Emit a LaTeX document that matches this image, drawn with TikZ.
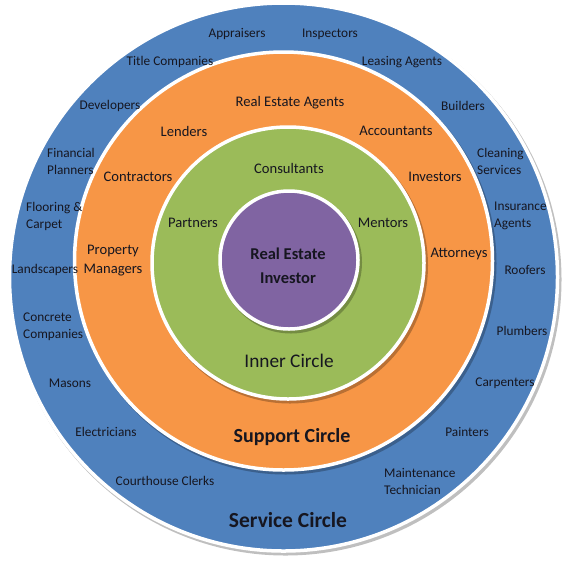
\documentclass[tikz,border=0pt]{standalone}
\usepackage{fontspec}
\setmainfont{Carlito}
\usetikzlibrary{positioning}
\definecolor{svcblue}{RGB}{79,129,189}
\definecolor{suporange}{RGB}{247,150,70}
\definecolor{inngreen}{RGB}{155,187,89}
\definecolor{invpurple}{RGB}{128,100,162}
\definecolor{lbltext}{RGB}{22,22,32}
\tikzset{ring/.style={draw=white, line width=3.5pt}}
\tikzset{ringshadow/.style={fill=black, opacity=0.25}}
\tikzset{svclbl/.style={font=\fontsize{13.3}{17}\selectfont, text=lbltext, align=center, inner sep=0pt}}
\tikzset{leftlbl/.style={svclbl, align=left, anchor=west}}
\tikzset{suplbl/.style={font=\fontsize{14.6}{19}\selectfont, text=lbltext, align=center, inner sep=0pt}}
\tikzset{ringtitle/.style={font=\fontsize{20}{24}\selectfont\bfseries, text=lbltext, inner sep=0pt}}

\begin{document}
\begin{tikzpicture}[x=1pt, y=-1pt]
  \useasboundingbox (0,0) rectangle (569,563);
  % rings, outside in
  \fill[ringshadow] (285.5,279.5) circle (276);
  \draw[ring, fill=svcblue] (283.5,277) circle (274);
  \fill[ringshadow] (285.5,263.5) circle (211);
  \draw[ring, fill=suporange] (283.5,261) circle (209);
  \fill[ringshadow] (290,265.5) circle (138);
  \draw[ring, fill=inngreen] (288,263) circle (136);
  \fill[ringshadow] (291,262.5) circle (71);
  \draw[ring, fill=invpurple] (289,260) circle (69);

  % service circle
  \node[svclbl] (appraisers) at (237,34) {Appraisers};
  \node[svclbl] (inspectors) at (330,34) {Inspectors};
  \node[svclbl] (titleco) at (170,62) {Title Companies};
  \node[svclbl] (leasing) at (402,62) {Leasing Agents};
  \node[svclbl] (developers) at (110,106) {Developers};
  \node[svclbl] (builders) at (463,106) {Builders};
  \node[leftlbl] (financial) at (47,161) {Financial\\Planners};
  \node[leftlbl] (cleaning) at (477,161) {Cleaning\\Services};
  \node[leftlbl] (flooring) at (26,216) {Flooring \&\\Carpet};
  \node[leftlbl] (insurance) at (494,216) {Insurance\\Agents};
  \node[svclbl] (landscapers) at (45,270) {Landscapers};
  \node[svclbl] (roofers) at (525,270) {Roofers};
  \node[leftlbl] (concrete) at (23,327) {Concrete\\Companies};
  \node[svclbl] (plumbers) at (522,331) {Plumbers};
  \node[svclbl] (masons) at (70,383) {Masons};
  \node[svclbl] (carpenters) at (505,383) {Carpenters};
  \node[svclbl] (electricians) at (106,432) {Electricians};
  \node[svclbl] (painters) at (467,432) {Painters};
  \node[svclbl] (clerks) at (165,481) {Courthouse Clerks};
  \node[leftlbl] (maintenance) at (384,481) {Maintenance\\Technician};
  \node[ringtitle, font=\fontsize{21.5}{26}\selectfont\bfseries] (service) at (288,520) {Service Circle};

  % support circle
  \node[suplbl] (agents) at (290,103) {Real Estate Agents};
  \node[suplbl] (lenders) at (184,131) {Lenders};
  \node[suplbl] (accountants) at (396,131) {Accountants};
  \node[suplbl] (contractors) at (138,177) {Contractors};
  \node[suplbl] (investors) at (435,177) {Investors};
  \node[suplbl] (managers) at (113,261) {Property\\Managers};
  \node[suplbl] (attorneys) at (459,254) {Attorneys};
  \node[ringtitle] (support) at (292,437) {Support Circle};

  % inner circle
  \node[suplbl] (consultants) at (289,168) {Consultants};
  \node[suplbl] (partners) at (193,223) {Partners};
  \node[suplbl] (mentors) at (383,223) {Mentors};
  \node[ringtitle, font=\fontsize{19.3}{24}\selectfont] (inner) at (289,361) {Inner Circle};

  % investor
  \node[ringtitle, font=\fontsize{16.5}{24.5}\selectfont\bfseries, align=center] (investor) at (288,266) {Real Estate\\Investor};
\end{tikzpicture}
\end{document}
